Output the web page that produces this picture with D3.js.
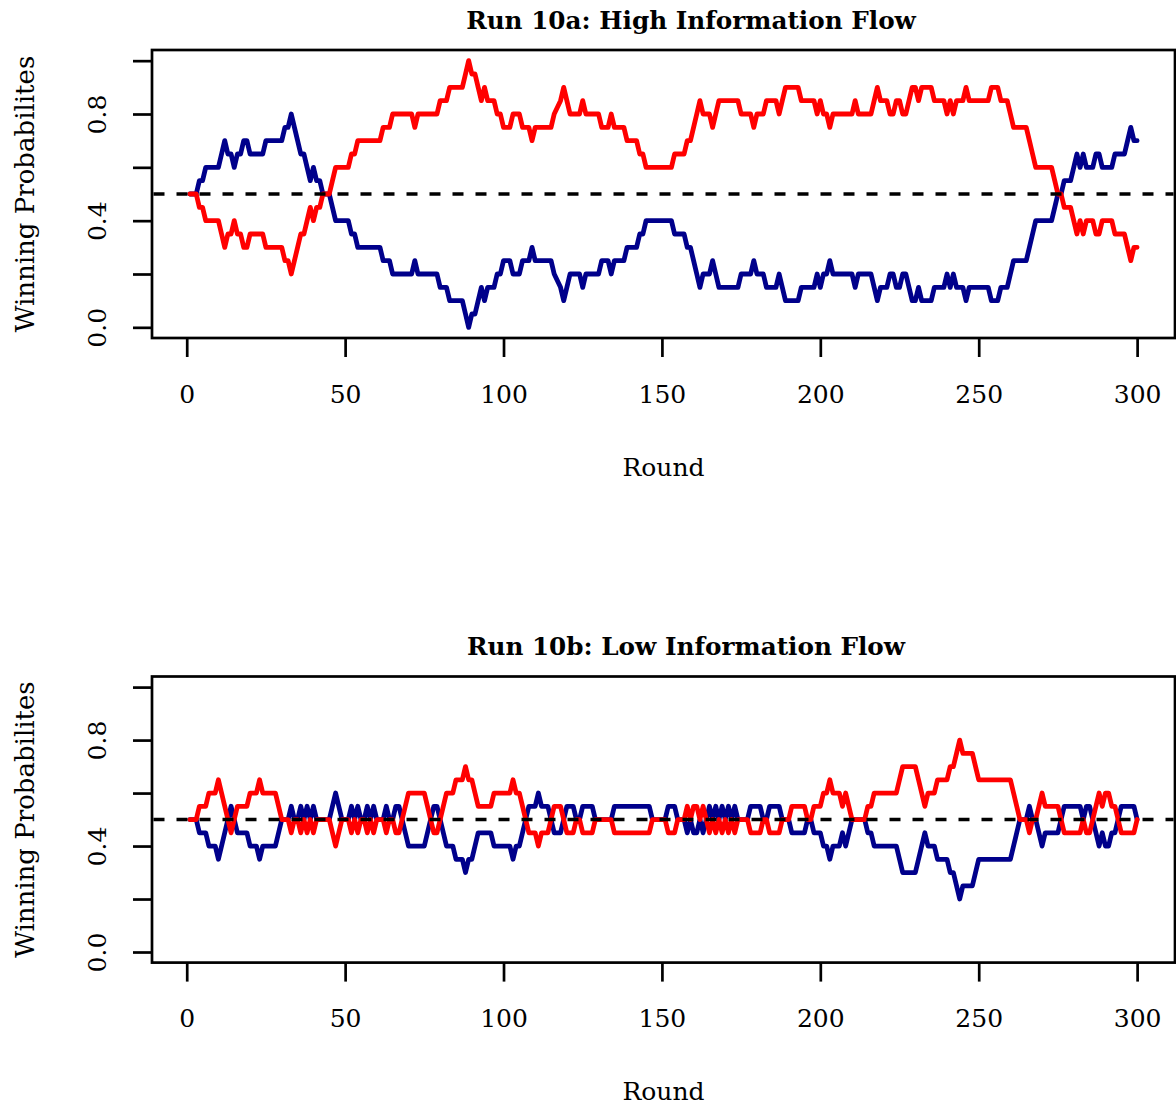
<!DOCTYPE html>
<html lang="en">
<head>
<meta charset="UTF-8">
<title>Run 10: Winning Probabilities</title>
<script src="https://d3js.org/d3.v7.min.js"></script>
<style>
	body { margin: 0; background: #fff; }
	text { font-family: "DejaVu Serif", "Liberation Serif", serif; fill: #000; }
	.title { font-weight: bold; font-size: 24.7px; }
	.axis-label { font-size: 25px; }
	.y-label { font-size: 26px; }
	.tick text { font-size: 25px; }
	.tick line { stroke: #000; stroke-width: 2.7px; }
	.frame { fill: none; stroke: #000; stroke-width: 2.7px; }
	.series { fill: none; stroke-width: 4.8px; stroke-linejoin: round; stroke-linecap: round; }
	.ref { stroke: #000; stroke-width: 3.6px; stroke-dasharray: 11 12; }
</style>
</head>
<body>
<script>
const width = 1176, height = 1110;

// rounds where the probability changes, [round, probability]
const topRed = [
	[1,0.5],[3,0.5],[4,0.45],[5,0.45],[6,0.4],[10,0.4],[11,0.35],[12,0.3],[13,0.35],[14,0.35],
	[15,0.4],[16,0.35],[17,0.35],[18,0.3],[19,0.3],[20,0.35],[24,0.35],[25,0.3],[30,0.3],[31,0.25],
	[32,0.25],[33,0.2],[34,0.25],[35,0.3],[36,0.35],[37,0.35],[38,0.4],[39,0.45],[40,0.4],[41,0.45],
	[42,0.45],[43,0.5],[45,0.5],[46,0.55],[47,0.6],[51,0.6],[52,0.65],[53,0.65],[54,0.7],[61,0.7],
	[62,0.75],[64,0.75],[65,0.8],[71,0.8],[72,0.75],[73,0.8],[79,0.8],[80,0.85],[82,0.85],[83,0.9],
	[87,0.9],[88,0.95],[89,1.0],[90,0.95],[91,0.95],[92,0.9],[93,0.85],[94,0.9],[95,0.85],[97,0.85],
	[98,0.8],[99,0.8],[100,0.75],[102,0.75],[103,0.8],[105,0.8],[106,0.75],[108,0.75],[109,0.7],[110,0.75],
	[115,0.75],[116,0.8],[118,0.85],[119,0.9],[120,0.85],[121,0.8],[124,0.8],[125,0.85],[126,0.8],[130,0.8],
	[131,0.75],[133,0.75],[134,0.8],[135,0.75],[138,0.75],[139,0.7],[142,0.7],[143,0.65],[144,0.65],[145,0.6],
	[153,0.6],[154,0.65],[157,0.65],[158,0.7],[159,0.7],[160,0.75],[161,0.8],[162,0.85],[163,0.8],[165,0.8],
	[166,0.75],[167,0.8],[168,0.85],[174,0.85],[175,0.8],[178,0.8],[179,0.75],[180,0.8],[182,0.8],[183,0.85],
	[186,0.85],[187,0.8],[188,0.85],[189,0.9],[193,0.9],[194,0.85],[198,0.85],[199,0.8],[200,0.85],[201,0.8],
	[202,0.8],[203,0.75],[204,0.8],[210,0.8],[211,0.85],[212,0.8],[216,0.8],[217,0.85],[218,0.9],[219,0.85],
	[221,0.85],[222,0.8],[223,0.8],[224,0.85],[225,0.85],[226,0.8],[227,0.8],[228,0.85],[229,0.9],[230,0.9],
	[231,0.85],[232,0.9],[235,0.9],[236,0.85],[239,0.85],[240,0.8],[241,0.85],[242,0.8],[243,0.85],[245,0.85],
	[246,0.9],[247,0.85],[253,0.85],[254,0.9],[256,0.9],[257,0.85],[259,0.85],[260,0.8],[261,0.75],[265,0.75],
	[266,0.7],[267,0.65],[268,0.6],[273,0.6],[274,0.55],[275,0.5],[276,0.5],[277,0.45],[279,0.45],[280,0.4],
	[281,0.35],[282,0.4],[283,0.35],[284,0.4],[286,0.4],[287,0.35],[288,0.35],[289,0.4],[292,0.4],[293,0.35],
	[296,0.35],[297,0.3],[298,0.25],[299,0.3],[300,0.3]
];
const topBlue = [
	[1,0.5],[3,0.5],[4,0.55],[5,0.55],[6,0.6],[10,0.6],[11,0.65],[12,0.7],[13,0.65],[14,0.65],
	[15,0.6],[16,0.65],[17,0.65],[18,0.7],[19,0.7],[20,0.65],[24,0.65],[25,0.7],[30,0.7],[31,0.75],
	[32,0.75],[33,0.8],[34,0.75],[35,0.7],[36,0.65],[37,0.65],[38,0.6],[39,0.55],[40,0.6],[41,0.55],
	[42,0.55],[43,0.5],[45,0.5],[46,0.45],[47,0.4],[51,0.4],[52,0.35],[53,0.35],[54,0.3],[61,0.3],
	[62,0.25],[64,0.25],[65,0.2],[71,0.2],[72,0.25],[73,0.2],[79,0.2],[80,0.15],[82,0.15],[83,0.1],
	[87,0.1],[88,0.05],[89,0.0],[90,0.05],[91,0.05],[92,0.1],[93,0.15],[94,0.1],[95,0.15],[97,0.15],
	[98,0.2],[99,0.2],[100,0.25],[102,0.25],[103,0.2],[105,0.2],[106,0.25],[108,0.25],[109,0.3],[110,0.25],
	[115,0.25],[116,0.2],[118,0.15],[119,0.1],[120,0.15],[121,0.2],[124,0.2],[125,0.15],[126,0.2],[130,0.2],
	[131,0.25],[133,0.25],[134,0.2],[135,0.25],[138,0.25],[139,0.3],[142,0.3],[143,0.35],[144,0.35],[145,0.4],
	[153,0.4],[154,0.35],[157,0.35],[158,0.3],[159,0.3],[160,0.25],[161,0.2],[162,0.15],[163,0.2],[165,0.2],
	[166,0.25],[167,0.2],[168,0.15],[174,0.15],[175,0.2],[178,0.2],[179,0.25],[180,0.2],[182,0.2],[183,0.15],
	[186,0.15],[187,0.2],[188,0.15],[189,0.1],[193,0.1],[194,0.15],[198,0.15],[199,0.2],[200,0.15],[201,0.2],
	[202,0.2],[203,0.25],[204,0.2],[210,0.2],[211,0.15],[212,0.2],[216,0.2],[217,0.15],[218,0.1],[219,0.15],
	[221,0.15],[222,0.2],[223,0.2],[224,0.15],[225,0.15],[226,0.2],[227,0.2],[228,0.15],[229,0.1],[230,0.1],
	[231,0.15],[232,0.1],[235,0.1],[236,0.15],[239,0.15],[240,0.2],[241,0.15],[242,0.2],[243,0.15],[245,0.15],
	[246,0.1],[247,0.15],[253,0.15],[254,0.1],[256,0.1],[257,0.15],[259,0.15],[260,0.2],[261,0.25],[265,0.25],
	[266,0.3],[267,0.35],[268,0.4],[273,0.4],[274,0.45],[275,0.5],[276,0.5],[277,0.55],[279,0.55],[280,0.6],
	[281,0.65],[282,0.6],[283,0.65],[284,0.6],[286,0.6],[287,0.65],[288,0.65],[289,0.6],[292,0.6],[293,0.65],
	[296,0.65],[297,0.7],[298,0.75],[299,0.7],[300,0.7]
];

const bottomRed = [
	[1,0.5],[3,0.5],[4,0.55],[6,0.55],[7,0.6],[9,0.6],[10,0.65],[11,0.6],[12,0.55],[13,0.5],
	[14,0.45],[15,0.5],[16,0.55],[19,0.55],[20,0.6],[22,0.6],[23,0.65],[24,0.6],[28,0.6],[29,0.55],
	[30,0.5],[32,0.5],[33,0.45],[34,0.5],[35,0.5],[36,0.45],[37,0.5],[38,0.45],[39,0.5],[40,0.45],
	[41,0.5],[45,0.5],[46,0.45],[47,0.4],[48,0.45],[49,0.5],[51,0.5],[52,0.45],[53,0.5],[54,0.45],
	[55,0.5],[56,0.5],[57,0.45],[58,0.5],[59,0.45],[60,0.5],[62,0.5],[63,0.45],[64,0.5],[65,0.5],
	[66,0.45],[67,0.45],[68,0.5],[69,0.55],[70,0.6],[75,0.6],[76,0.55],[77,0.5],[78,0.45],[79,0.45],
	[80,0.5],[81,0.55],[82,0.6],[84,0.6],[85,0.65],[87,0.65],[88,0.7],[89,0.65],[90,0.65],[91,0.6],
	[92,0.55],[96,0.55],[97,0.6],[102,0.6],[103,0.65],[104,0.6],[105,0.6],[106,0.55],[107,0.5],[108,0.45],
	[110,0.45],[111,0.4],[112,0.45],[114,0.45],[115,0.5],[116,0.55],[118,0.55],[119,0.5],[120,0.45],[122,0.45],
	[123,0.5],[124,0.5],[125,0.45],[128,0.45],[129,0.5],[134,0.5],[135,0.45],[146,0.45],[147,0.5],[151,0.5],
	[152,0.45],[154,0.45],[155,0.5],[157,0.5],[158,0.55],[159,0.5],[160,0.55],[161,0.55],[162,0.5],[163,0.55],
	[164,0.5],[165,0.45],[166,0.5],[167,0.45],[168,0.5],[169,0.45],[170,0.5],[171,0.45],[172,0.5],[173,0.45],
	[174,0.5],[177,0.5],[178,0.45],[181,0.45],[182,0.5],[183,0.5],[184,0.45],[187,0.45],[188,0.5],[190,0.5],
	[191,0.55],[195,0.55],[196,0.5],[197,0.5],[198,0.55],[200,0.55],[201,0.6],[202,0.6],[203,0.65],[204,0.6],
	[206,0.6],[207,0.55],[208,0.6],[209,0.55],[210,0.5],[214,0.5],[215,0.55],[216,0.55],[217,0.6],[224,0.6],
	[225,0.65],[226,0.7],[230,0.7],[231,0.65],[232,0.6],[233,0.55],[234,0.6],[236,0.6],[237,0.65],[240,0.65],
	[241,0.7],[242,0.7],[243,0.75],[244,0.8],[245,0.75],[248,0.75],[249,0.7],[250,0.65],[260,0.65],[261,0.6],
	[262,0.55],[263,0.5],[265,0.5],[266,0.45],[267,0.5],[268,0.5],[269,0.55],[270,0.6],[271,0.55],[275,0.55],
	[276,0.5],[277,0.45],[282,0.45],[283,0.5],[284,0.45],[285,0.45],[286,0.5],[287,0.55],[288,0.6],[289,0.55],
	[290,0.6],[291,0.6],[292,0.55],[293,0.55],[294,0.5],[295,0.45],[299,0.45],[300,0.5]
];
const bottomBlue = [
	[1,0.5],[3,0.5],[4,0.45],[6,0.45],[7,0.4],[9,0.4],[10,0.35],[11,0.4],[12,0.45],[13,0.5],
	[14,0.55],[15,0.5],[16,0.45],[19,0.45],[20,0.4],[22,0.4],[23,0.35],[24,0.4],[28,0.4],[29,0.45],
	[30,0.5],[32,0.5],[33,0.55],[34,0.5],[35,0.5],[36,0.55],[37,0.5],[38,0.55],[39,0.5],[40,0.55],
	[41,0.5],[45,0.5],[46,0.55],[47,0.6],[48,0.55],[49,0.5],[51,0.5],[52,0.55],[53,0.5],[54,0.55],
	[55,0.5],[56,0.5],[57,0.55],[58,0.5],[59,0.55],[60,0.5],[62,0.5],[63,0.55],[64,0.5],[65,0.5],
	[66,0.55],[67,0.55],[68,0.5],[69,0.45],[70,0.4],[75,0.4],[76,0.45],[77,0.5],[78,0.55],[79,0.55],
	[80,0.5],[81,0.45],[82,0.4],[84,0.4],[85,0.35],[87,0.35],[88,0.3],[89,0.35],[90,0.35],[91,0.4],
	[92,0.45],[96,0.45],[97,0.4],[102,0.4],[103,0.35],[104,0.4],[105,0.4],[106,0.45],[107,0.5],[108,0.55],
	[110,0.55],[111,0.6],[112,0.55],[114,0.55],[115,0.5],[116,0.45],[118,0.45],[119,0.5],[120,0.55],[122,0.55],
	[123,0.5],[124,0.5],[125,0.55],[128,0.55],[129,0.5],[134,0.5],[135,0.55],[146,0.55],[147,0.5],[151,0.5],
	[152,0.55],[154,0.55],[155,0.5],[157,0.5],[158,0.45],[159,0.5],[160,0.45],[161,0.45],[162,0.5],[163,0.45],
	[164,0.5],[165,0.55],[166,0.5],[167,0.55],[168,0.5],[169,0.55],[170,0.5],[171,0.55],[172,0.5],[173,0.55],
	[174,0.5],[177,0.5],[178,0.55],[181,0.55],[182,0.5],[183,0.5],[184,0.55],[187,0.55],[188,0.5],[190,0.5],
	[191,0.45],[195,0.45],[196,0.5],[197,0.5],[198,0.45],[200,0.45],[201,0.4],[202,0.4],[203,0.35],[204,0.4],
	[206,0.4],[207,0.45],[208,0.4],[209,0.45],[210,0.5],[214,0.5],[215,0.45],[216,0.45],[217,0.4],[224,0.4],
	[225,0.35],[226,0.3],[230,0.3],[231,0.35],[232,0.4],[233,0.45],[234,0.4],[236,0.4],[237,0.35],[240,0.35],
	[241,0.3],[242,0.3],[243,0.25],[244,0.2],[245,0.25],[248,0.25],[249,0.3],[250,0.35],[260,0.35],[261,0.4],
	[262,0.45],[263,0.5],[265,0.5],[266,0.55],[267,0.5],[268,0.5],[269,0.45],[270,0.4],[271,0.45],[275,0.45],
	[276,0.5],[277,0.55],[282,0.55],[283,0.5],[284,0.55],[285,0.55],[286,0.5],[287,0.45],[288,0.4],[289,0.45],
	[290,0.4],[291,0.4],[292,0.45],[293,0.45],[294,0.5],[295,0.55],[299,0.55],[300,0.5]
];

const xTicks = [0, 50, 100, 150, 200, 250, 300];
const yTicks = [0, 0.2, 0.4, 0.6, 0.8, 1.0];
const yTickLabels = ["0.0", "", "0.4", "", "0.8", ""];
const refLevel = 0.5;

const panels = [
	{title: "Run 10a: High Information Flow", titleX: 691, top: 50, bottom: 338, red: topRed, blue: topBlue},
	{title: "Run 10b: Low Information Flow", titleX: 686, top: 676.5, bottom: 962.6, red: bottomRed, blue: bottomBlue}
];

const left = 152, right = 1175;

const svg = d3.select("body").append("svg")
	.attr("width", width)
	.attr("height", height);

const x = d3.scaleLinear().domain([1 - 299 * 0.04, 300 + 299 * 0.04]).range([left, right]);

function drawPanel(p) {
	const g = svg.append("g");
	const y = d3.scaleLinear().domain([-0.04, 1.04]).range([p.bottom, p.top]);

	const line = d3.line()
		.x(d => x(d[0]))
		.y(d => y(d[1]));

	g.append("path")
		.datum(p.blue)
		.attr("class", "series")
		.attr("stroke", "#00008B")
		.attr("d", line);

	g.append("path")
		.datum(p.red)
		.attr("class", "series")
		.attr("stroke", "#FF0000")
		.attr("d", line);

	// dashed reference line across the plot region
	g.append("line")
		.attr("class", "ref")
		.attr("x1", left + 1.5)
		.attr("x2", right - 1.5)
		.attr("y1", y(refLevel))
		.attr("y2", y(refLevel));

	// x axis
	const xAxis = g.append("g")
		.attr("transform", `translate(0,${p.bottom})`)
		.call(d3.axisBottom(x).tickValues(xTicks).tickSize(19).tickSizeOuter(0).tickPadding(27));
	xAxis.select(".domain").remove();
	xAxis.selectAll(".tick text").attr("dy", "0.35em").attr("y", 56);

	// y axis, labels parallel to the axis
	const yAxis = g.append("g")
		.attr("transform", `translate(${left},0)`)
		.call(d3.axisLeft(y).tickValues(yTicks).tickSize(19).tickSizeOuter(0)
			.tickFormat((d, i) => yTickLabels[i]));
	yAxis.select(".domain").remove();
	yAxis.selectAll(".tick text")
		.attr("x", null)
		.attr("dy", "0.35em")
		.attr("text-anchor", "middle")
		.attr("transform", "translate(-55,0) rotate(-90)");

	// plot frame
	g.append("rect")
		.attr("class", "frame")
		.attr("x", left)
		.attr("y", p.top)
		.attr("width", right - left)
		.attr("height", p.bottom - p.top);

	g.append("text")
		.attr("class", "title")
		.attr("x", p.titleX)
		.attr("y", p.top - 30)
		.attr("dy", "0.35em")
		.attr("text-anchor", "middle")
		.text(p.title);

	g.append("text")
		.attr("class", "axis-label")
		.attr("x", (left + right) / 2)
		.attr("y", p.bottom + 129)
		.attr("dy", "0.35em")
		.attr("text-anchor", "middle")
		.text("Round");

	g.append("text")
		.attr("class", "y-label")
		.attr("text-anchor", "middle")
		.attr("dy", "0.35em")
		.attr("transform", `translate(25,${(p.top + p.bottom) / 2}) rotate(-90)`)
		.text("Winning Probabilites");
}

panels.forEach(drawPanel);
</script>
</body>
</html>
